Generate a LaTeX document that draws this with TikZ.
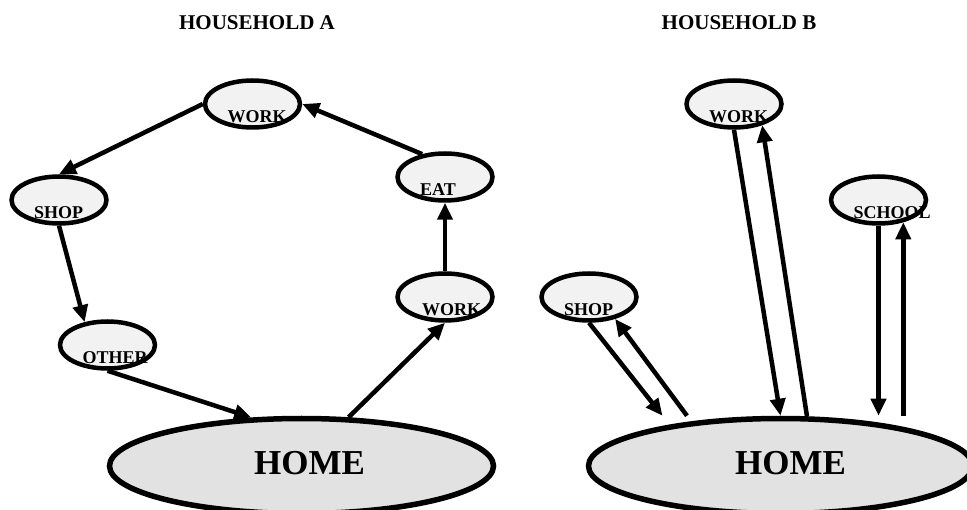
\documentclass[tikz,border=0pt]{standalone}
\usepackage{fontspec}
\setmainfont{Liberation Serif}
\usetikzlibrary{shapes.geometric,arrows.meta,calc}
\definecolor{smallfill}{HTML}{F2F2F2}
\definecolor{homefill}{HTML}{E2E2E2}
\begin{document}
\begin{tikzpicture}[x=1pt,y=-1pt,
  place/.style={ellipse,draw,line width=4.5pt,fill=smallfill,minimum width=95pt,minimum height=47pt,inner sep=0pt},
  homeplace/.style={ellipse,draw,line width=5.5pt,fill=homefill,minimum width=384pt,minimum height=95pt,inner sep=0pt},
  lbl/.style={anchor=base west,inner sep=0pt,font=\fontsize{18}{20}\selectfont\bfseries},
  homelbl/.style={anchor=base,inner sep=0pt,font=\fontsize{35}{38}\selectfont\bfseries},
  ttl/.style={anchor=base,inner sep=0pt,font=\fontsize{21}{24}\selectfont\bfseries},
  arr/.style={line width=4.5pt,-{Triangle[length=17pt,width=15pt]}}]
\clip (0,0) rectangle (967,510);
\useasboundingbox (0,0) rectangle (967,510);
% titles
\node[ttl] (ta) at (257,30) {HOUSEHOLD A};
\node[ttl] (tb) at (739,30) {HOUSEHOLD B};
% household A
\node[place] (workA) at (252.5,104) {};
\node[place] (shopA) at (59,200) {};
\node[place] (otherA) at (107.5,345) {};
\node[place] (eatA) at (445,177) {};
\node[place] (work2A) at (445,297) {};
\node[homeplace] (homeA) at (301.5,466) {};
% household B
\node[place] (workB) at (734,104) {};
\node[place] (schoolB) at (878.5,200) {};
\node[place] (shopB) at (589,297) {};
\node[homeplace] (homeB) at (780.5,466) {};
% labels
\node[lbl] (workAt) at ($(workA.center)+(-25,19)$) {WORK};
\node[lbl] (shopAt) at ($(shopA.center)+(-25,19)$) {SHOP};
\node[lbl] (otherAt) at ($(otherA.center)+(-25,19)$) {OTHER};
\node[lbl] (eatAt) at ($(eatA.center)+(-25,19)$) {EAT};
\node[lbl] (work2At) at ($(work2A.center)+(-23,19)$) {WORK};
\node[lbl] (workBt) at ($(workB.center)+(-25,19)$) {WORK};
\node[lbl] (schoolBt) at ($(schoolB.center)+(-25,19)$) {SCHOOL};
\node[lbl] (shopBt) at ($(shopB.center)+(-25,19)$) {SHOP};
\node[homelbl] (homeAt) at ($(homeA.center)+(8,9)$) {HOME};
\node[homelbl] (homeBt) at ($(homeB.center)+(10,9)$) {HOME};
% arrows A
\draw[arr] (workA.west) -- (shopA.north);
\draw[arr] (shopA.south) -- (otherA.135);
\draw[arr] (otherA.south) -- (homeA.136);
\draw[arr] (homeA.46) -- (work2A.south);
\draw[arr] (work2A.north) -- (eatA.south);
\draw[arr] (eatA.135) -- (workA.east);
% arrows B
\draw[arr] (workB.south) -- (homeB.north);
\draw[arr] (homeB.62) -- (workB.-37);
\draw[arr] (schoolB.south) -- (schoolB.south |- homeB.north);
\draw[arr] (schoolB.-42 |- homeB.north) -- (schoolB.-42);
\draw[arr] (shopB.south) -- ($(homeB.north)+(-118,0)$);
\draw[arr] ($(homeB.north)+(-93.5,0)$) -- (shopB.-40);
\end{tikzpicture}
\end{document}
